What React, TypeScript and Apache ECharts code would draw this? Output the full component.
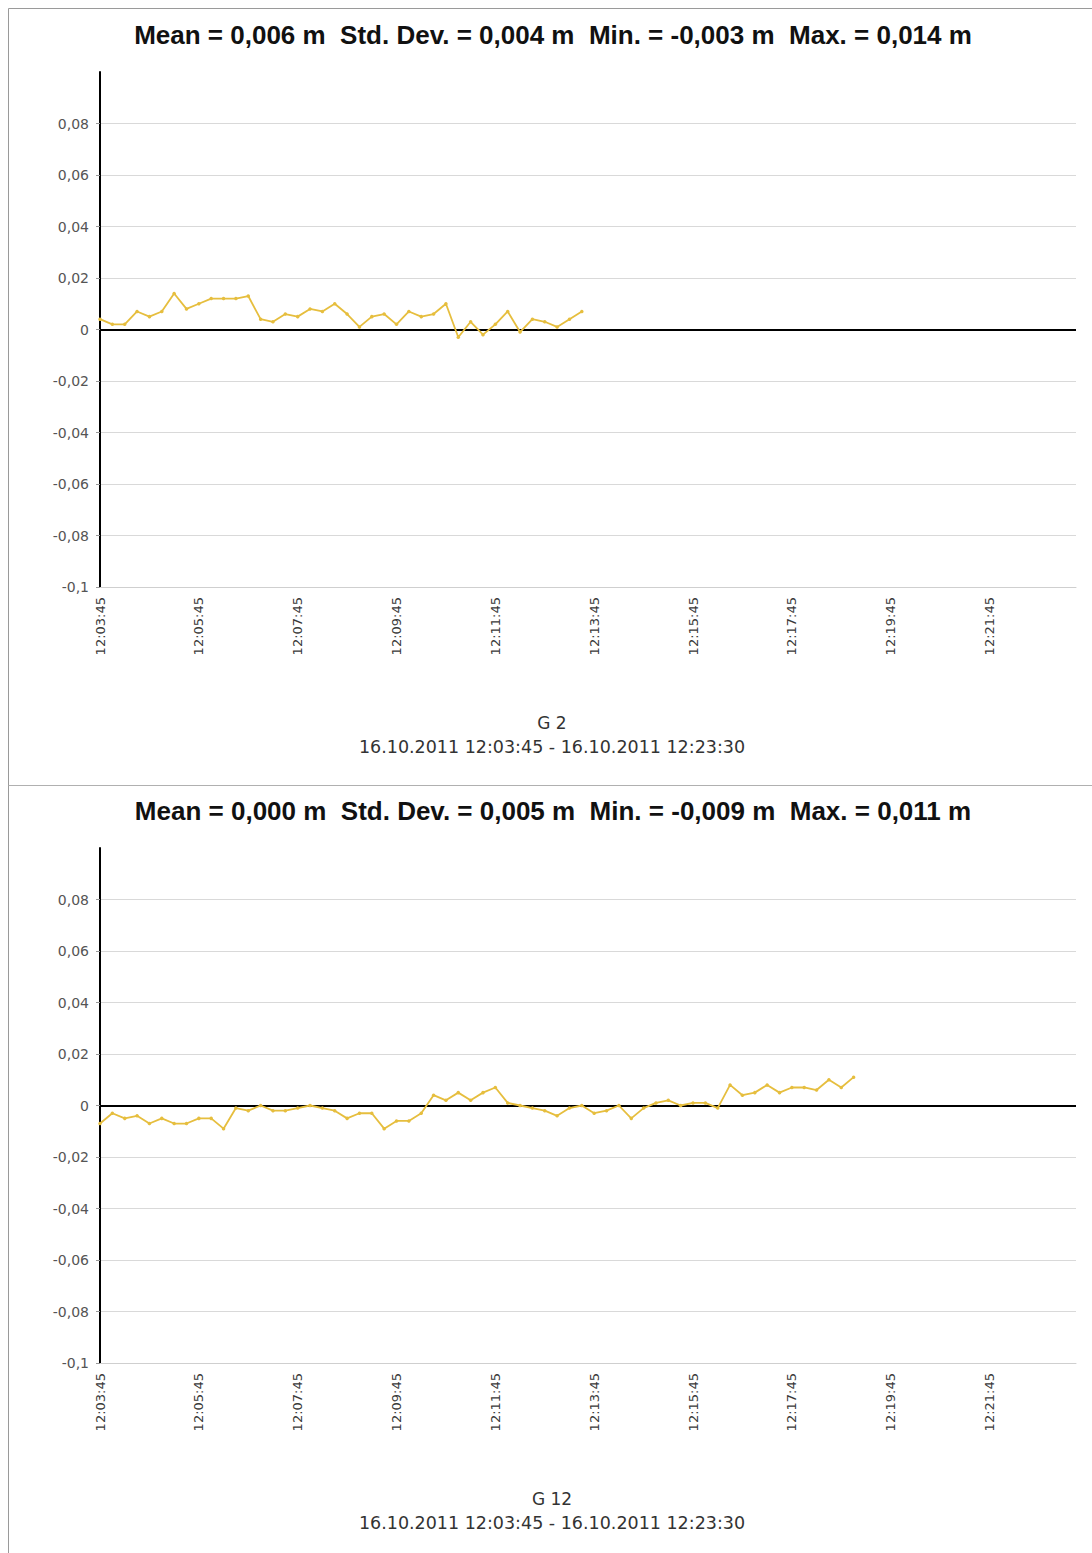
import React, { useEffect, useRef } from "react";
import * as echarts from "echarts";

// Panel titles / names
const PANEL_TITLES = [
  "Mean = 0,006 m  Std. Dev. = 0,004 m  Min. = -0,003 m  Max. = 0,014 m",
  "Mean = 0,000 m  Std. Dev. = 0,005 m  Min. = -0,009 m  Max. = 0,011 m",
];
const PANEL_NAMES = ["G 2", "G 12"];
const PERIOD_TEXT = "16.10.2011 12:03:45 - 16.10.2011 12:23:30";

// Time axis: seconds since 12:03:45, samples every 15 s
const START_SECONDS = 12 * 3600 + 3 * 60 + 45;
const SAMPLE_SECONDS = 15;
const X_MAX_SECONDS = 1185; // 12:23:30
const X_TICK_SECONDS = 120;

// Y axis
const Y_MIN = -0.1;
const Y_MAX = 0.1;
const Y_STEP = 0.02;

// Series values (m)
const G2_VALUES = [
  0.004, 0.002, 0.002, 0.007, 0.005, 0.007, 0.014, 0.008, 0.010, 0.012,
  0.012, 0.012, 0.013, 0.004, 0.003, 0.006, 0.005, 0.008, 0.007, 0.010,
  0.006, 0.001, 0.005, 0.006, 0.002, 0.007, 0.005, 0.006, 0.010, -0.003,
  0.003, -0.002, 0.002, 0.007, -0.001, 0.004, 0.003, 0.001, 0.004, 0.007,
];
const G12_VALUES = [
  -0.007, -0.003, -0.005, -0.004, -0.007, -0.005, -0.007, -0.007, -0.005, -0.005,
  -0.009, -0.001, -0.002, 0.000, -0.002, -0.002, -0.001, 0.000, -0.001, -0.002,
  -0.005, -0.003, -0.003, -0.009, -0.006, -0.006, -0.003, 0.004, 0.002, 0.005,
  0.002, 0.005, 0.007, 0.001, 0.000, -0.001, -0.002, -0.004, -0.001, 0.000,
  -0.003, -0.002, 0.000, -0.005, -0.001, 0.001, 0.002, 0.000, 0.001, 0.001,
  -0.001, 0.008, 0.004, 0.005, 0.008, 0.005, 0.007, 0.007, 0.006, 0.010,
  0.007, 0.011,
];

const SERIES_VALUES = [G2_VALUES, G12_VALUES];

const W = 1092;
const H = 1553;
const PANEL_OFFSET = 776;
const LINE_COLOR = "#E6BE3E";
const FONT = "'DejaVu Sans', Verdana, sans-serif";
const TITLE_FONT = "'Liberation Sans', Arial, sans-serif";

function fmtTime(v: number): string {
  const t = START_SECONDS + v;
  const h = Math.floor(t / 3600);
  const m = Math.floor((t % 3600) / 60);
  const s = Math.round(t % 60);
  const p = (n: number) => String(n).padStart(2, "0");
  return `${p(h)}:${p(m)}:${p(s)}`;
}

function fmtY(v: number): string {
  const r = Math.round(v * 100) / 100;
  return String(r).replace(".", ",");
}

export default function App() {
  const ref = useRef<HTMLDivElement>(null);

  useEffect(() => {
    if (!ref.current) return;
    const chart = echarts.init(ref.current, null, { renderer: "svg" });

    const grids: any[] = [];
    const xAxes: any[] = [];
    const yAxes: any[] = [];
    const series: any[] = [];
    const graphics: any[] = [];

    // borders
    graphics.push(
      { type: "line", shape: { x1: 8.5, y1: 8.5, x2: W, y2: 8.5 }, style: { stroke: "#9a9a9a", lineWidth: 1 } },
      { type: "line", shape: { x1: 8.5, y1: 8.5, x2: 8.5, y2: H }, style: { stroke: "#9a9a9a", lineWidth: 1 } },
      { type: "line", shape: { x1: 8.5, y1: 785.5, x2: W, y2: 785.5 }, style: { stroke: "#b0b0b0", lineWidth: 1 } }
    );

    for (let p = 0; p < 2; p++) {
      const off = p * PANEL_OFFSET;
      grids.push({ left: 100, top: 72 + off, width: 976, height: 515, containLabel: false });
      xAxes.push({
        type: "value",
        gridIndex: p,
        min: 0,
        max: X_MAX_SECONDS,
        interval: X_TICK_SECONDS,
        axisLine: { show: true, onZero: false, lineStyle: { color: "#cfcfcf", width: 1 } },
        axisTick: { show: false },
        splitLine: { show: false },
        axisLabel: {
          rotate: 90,
          margin: 10,
          fontSize: 13,
          fontFamily: FONT,
          color: "#3a3a3a",
          showMaxLabel: false,
          formatter: (v: number) => fmtTime(v),
        },
      });
      yAxes.push({
        type: "value",
        gridIndex: p,
        min: Y_MIN,
        max: Y_MAX,
        interval: Y_STEP,
        axisLine: { show: true, onZero: false, lineStyle: { color: "#000", width: 2 } },
        axisTick: { show: true, length: 4, lineStyle: { color: "#999" } },
        splitLine: { show: true, showMaxLine: false, lineStyle: { color: "#d9d9d9", width: 1 } },
        axisLabel: {
          fontSize: 14,
          fontFamily: FONT,
          color: "#555",
          margin: 11,
          showMaxLabel: false,
          formatter: (v: number) => fmtY(v),
        },
      });
      const vals = SERIES_VALUES[p];
      series.push({
        type: "line",
        xAxisIndex: p,
        yAxisIndex: p,
        data: vals.map((v, i) => [i * SAMPLE_SECONDS, v]),
        symbol: "circle",
        symbolSize: 3.5,
        showSymbol: true,
        lineStyle: { color: LINE_COLOR, width: 1.8 },
        itemStyle: { color: LINE_COLOR },
        z: 3,
        markLine: {
          silent: true,
          symbol: ["none", "none"],
          label: { show: false },
          lineStyle: { color: "#000", width: 2, type: "solid" },
          data: [{ yAxis: 0 }],
          z: 2,
        },
      });
      graphics.push(
        {
          type: "text",
          x: 553,
          y: 35 + off,
          style: {
            text: PANEL_TITLES[p],
            textAlign: "center",
            textVerticalAlign: "middle",
            font: `bold 26px ${TITLE_FONT}`,
            fill: "#111",
          },
        },
        {
          type: "text",
          x: 552,
          y: 723 + off,
          style: {
            text: PANEL_NAMES[p],
            textAlign: "center",
            textVerticalAlign: "middle",
            font: `17px ${FONT}`,
            fill: "#333",
          },
        },
        {
          type: "text",
          x: 552,
          y: 747 + off,
          style: {
            text: PERIOD_TEXT,
            textAlign: "center",
            textVerticalAlign: "middle",
            font: `17.5px ${FONT}`,
            fill: "#333",
          },
        }
      );
    }

    chart.setOption({
      animation: false,
      backgroundColor: "#fff",
      grid: grids,
      xAxis: xAxes,
      yAxis: yAxes,
      series,
      graphic: graphics,
    });
    return () => chart.dispose();
  }, []);

  return (
    <div
      ref={ref}
      style={{ position: "absolute", left: 0, top: 0, width: W, height: H, background: "#fff" }}
    />
  );
}
